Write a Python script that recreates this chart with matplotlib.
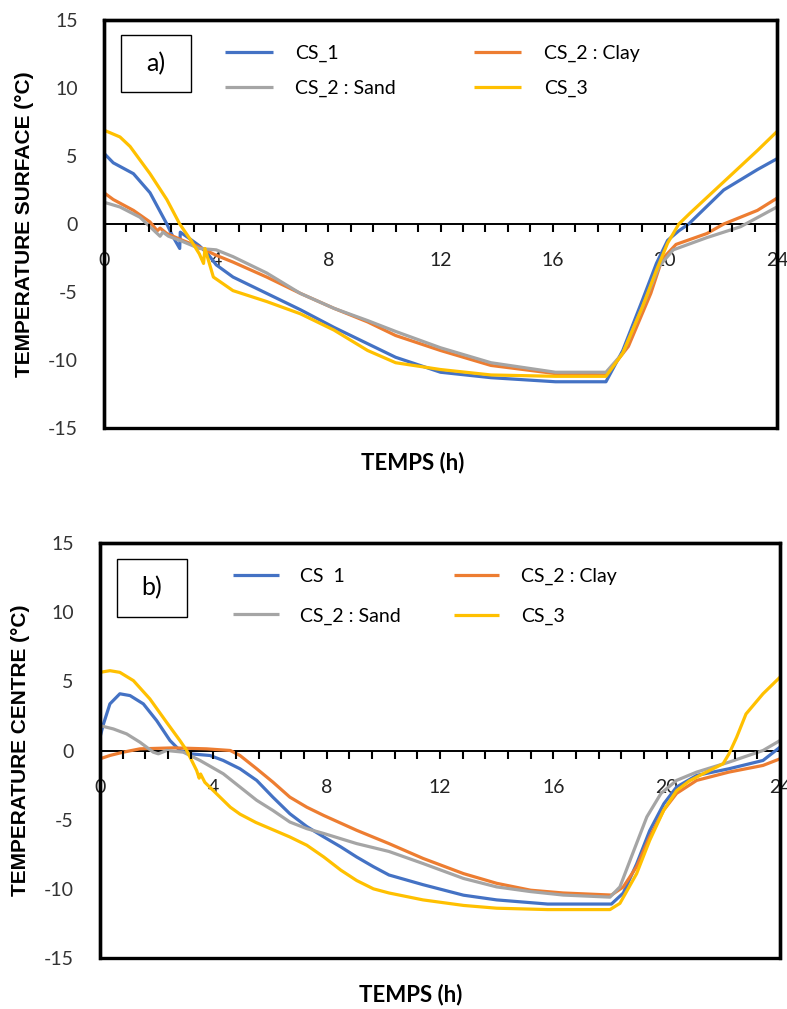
import matplotlib
matplotlib.use("Agg")
import matplotlib.pyplot as plt
from matplotlib.patches import Rectangle

# ---- data (hours, °C) ----
SERIES_NAMES = ["CS_1", "CS_2 : Clay", "CS_2 : Sand", "CS_3"]
COLORS = ["#4472C4", "#ED7D31", "#A5A5A5", "#FFC000"]

# panel a) surface temperature
A_CS1_H = [0, 0.33, 0.6, 1.05, 1.64, 2.24, 2.45, 2.7, 2.72, 3.0, 3.4, 3.7, 4.0, 4.6, 5.8, 7.0, 8.2, 9.4, 10.4,
           12.0, 13.8, 16.1, 17.9, 18.5, 19.2, 19.7, 20.1, 20.5, 20.85, 22.1, 23.3, 24.0]
A_CS1_T = [5.2, 4.5, 4.2, 3.7, 2.3, 0.0, -0.9, -1.8, -0.6, -1.0, -1.6, -2.2, -3.0, -3.9, -5.1, -6.3, -7.6, -8.8,
           -9.8, -10.9, -11.3, -11.6, -11.6, -9.3, -5.6, -2.9, -1.2, -0.5, 0.0, 2.5, 4.0, 4.8]
A_CLAY_H = [0, 0.33, 1.05, 1.64, 1.9, 2.0, 2.24, 2.8, 3.4, 4.0, 4.6, 5.8, 7.0, 8.2, 9.4, 10.4,
            12.0, 13.8, 16.1, 17.9, 18.7, 19.5, 19.9, 20.4, 21.5, 22.1, 23.3, 24.0]
A_CLAY_T = [2.3, 1.8, 1.0, 0.15, -0.5, -0.3, -0.7, -1.2, -1.7, -2.3, -2.8, -3.9, -5.1, -6.2, -7.2, -8.2,
            -9.3, -10.4, -11.0, -11.1, -9.0, -5.1, -2.6, -1.5, -0.7, 0.0, 1.0, 1.9]
A_SAND_H = [0, 0.57, 1.28, 1.64, 2.0, 2.1, 2.3, 2.7, 3.4, 4.0, 4.6, 5.8, 7.0, 8.2, 9.4, 10.4,
            12.0, 13.8, 16.1, 17.9, 18.5, 19.2, 19.8, 20.3, 21.5, 22.7, 24.0]
A_SAND_T = [1.6, 1.25, 0.5, -0.2, -0.9, -0.6, -0.9, -1.2, -1.8, -1.9, -2.4, -3.6, -5.1, -6.2, -7.1, -7.9,
            -9.1, -10.2, -10.9, -10.9, -9.5, -6.1, -3.1, -1.9, -1.0, -0.2, 1.25]
A_CS3_H = [0, 0.57, 0.93, 1.64, 2.24, 2.7, 3.1, 3.4, 3.55, 3.6, 3.9, 4.6, 5.8, 7.0, 8.2, 9.4, 10.4,
           12.0, 13.8, 16.1, 17.9, 18.5, 19.2, 19.7, 20.1, 20.5, 20.9, 22.1, 23.3, 24.0]
A_CS3_T = [6.9, 6.4, 5.7, 3.7, 1.8, 0.0, -1.2, -2.2, -2.9, -1.8, -3.9, -4.9, -5.7, -6.6, -7.8, -9.3, -10.2,
           -10.7, -11.1, -11.2, -11.2, -9.5, -6.1, -3.4, -1.4, 0.0, 0.8, 3.1, 5.4, 6.8]

# panel b) centre temperature
B_CS1_H = [0, 0.12, 0.35, 0.7, 1.06, 1.53, 2.0, 2.47, 2.82, 3.18, 3.88, 4.35, 4.94, 5.53, 6.1, 6.7, 7.3, 7.9,
           8.5, 9.06, 9.65, 10.2, 11.4, 12.83, 14.0, 15.8, 18.05, 18.47, 18.94, 19.4, 19.9, 20.35, 21.06,
           22.2, 23.4, 24.0]
B_CS1_T = [0.96, 1.9, 3.37, 4.1, 3.97, 3.37, 2.16, 0.72, 0.0, -0.24, -0.36, -0.72, -1.32, -2.16, -3.37, -4.57,
           -5.5, -6.25, -6.97, -7.7, -8.4, -9.0, -9.7, -10.46, -10.8, -11.1, -11.1, -10.3, -8.2, -5.8, -3.85,
           -2.64, -1.8, -1.32, -0.72, 0.24]
B_CLAY_H = [0, 0.35, 0.82, 1.41, 2.6, 3.76, 4.6, 4.94, 5.53, 6.1, 6.7, 7.3, 7.9, 9.06, 10.2, 11.4, 12.83,
            14.0, 15.2, 16.35, 18.05, 18.47, 18.94, 19.4, 19.9, 20.35, 21.06, 22.2, 23.4, 24.0]
B_CLAY_T = [-0.6, -0.36, -0.12, 0.12, 0.19, 0.12, 0.0, -0.36, -1.32, -2.28, -3.37, -4.1, -4.7, -5.77, -6.73,
            -7.8, -8.9, -9.6, -10.1, -10.3, -10.45, -9.86, -8.4, -6.25, -4.3, -3.1, -2.16, -1.56, -1.08, -0.6]
B_SAND_H = [0, 0.47, 0.94, 1.41, 1.88, 2.06, 2.35, 2.94, 3.53, 4.35, 4.94, 5.53, 6.1, 6.7, 7.3, 7.9, 9.06,
            10.2, 11.4, 12.83, 14.0, 15.2, 16.35, 18.0, 18.35, 18.8, 19.3, 19.8, 20.35, 21.06, 22.2, 23.4, 24.0]
B_SAND_T = [1.8, 1.56, 1.2, 0.6, -0.12, -0.24, 0.0, -0.12, -0.72, -1.68, -2.64, -3.6, -4.33, -5.17, -5.65,
            -6.0, -6.73, -7.3, -8.17, -9.25, -9.86, -10.2, -10.45, -10.6, -9.86, -7.45, -4.8, -3.1, -2.16,
            -1.56, -0.84, 0.0, 0.72]
B_CS3_H = [0, 0.35, 0.7, 1.18, 1.76, 2.35, 2.82, 3.06, 3.41, 3.5, 3.55, 3.7, 4.1, 4.6, 4.94, 5.5, 6.7, 7.3,
           7.9, 8.5, 9.06, 9.65, 10.2, 11.4, 12.83, 14.0, 15.8, 18.0, 18.35, 18.94, 19.4, 19.9, 20.35, 20.8,
           21.4, 21.99, 22.2, 22.47, 22.8, 23.4, 24.0]
B_CS3_T = [5.65, 5.77, 5.65, 5.05, 3.73, 2.04, 0.72, 0.0, -1.44, -2.0, -1.7, -2.3, -3.1, -4.1, -4.6, -5.2,
           -6.25, -6.85, -7.7, -8.65, -9.4, -10.0, -10.3, -10.8, -11.2, -11.4, -11.5, -11.5, -11.05, -8.9,
           -6.5, -4.3, -2.9, -2.2, -1.56, -0.96, -0.24, 0.96, 2.64, 4.1, 5.3]

X_TICKS = [0, 4, 8, 12, 16, 20, 24]
X_MINOR_STEP = 0.8  # small tick marks every 0.8 h along the zero line
Y_TICKS = [-15, -10, -5, 0, 5, 10, 15]

TICK_FONT = "Lato"
W, H = 787, 1009


def draw_panel(ax, series, tag, ylabel, leg_opts, box_rect, label_x, xlabel_xy):
    lines = []
    for (hx, ty), name, col in zip(series, SERIES_NAMES, COLORS):
        (ln,) = ax.plot(hx, ty, color=col, lw=2.3, label=name, solid_capstyle="butt", zorder=2)
        lines.append(ln)
    if tag == "b)":
        lines[0].set_label("CS  1")

    ax.set_xlim(0, 24)
    ax.set_ylim(-15, 15)
    ax.set_yticks(Y_TICKS)
    ax.set_yticklabels([str(v) for v in Y_TICKS], fontsize=14, family=TICK_FONT, color="#333333")
    ax.tick_params(axis="y", length=0, pad=19)
    # main x axis hidden; the time axis crosses at T = 0 (middle of the axes)
    ax.tick_params(axis="x", which="both", bottom=False, labelbottom=False)
    ax.spines["bottom"].set_visible(False)
    for s in ["top", "left", "right"]:
        ax.spines[s].set_linewidth(2.4)

    sec = ax.secondary_xaxis(0.49999)
    sec.spines["bottom"].set_linewidth(1.4)
    sec.set_xticks(X_TICKS)
    sec.set_xticklabels([str(v) for v in X_TICKS], fontsize=14, family=TICK_FONT, color="#222222")
    sec.tick_params(axis="x", which="both", length=0, pad=20.5)

    # tick marks hanging below the zero line
    n_minor = int(round(24 / X_MINOR_STEP))
    tick_pos = [i * X_MINOR_STEP for i in range(n_minor + 1)]
    for xp in tick_pos:
        ax.plot([xp, xp], [0, -0.6], color="black", lw=1.5, solid_capstyle="butt", zorder=3)

    ax.add_patch(Rectangle((0, 0), 1, 1, transform=ax.transAxes, fill=False,
                           lw=2.4, edgecolor="black", clip_on=False, zorder=5))

    # label box
    bx, by, bw, bh = box_rect
    ax.add_patch(Rectangle((bx, by), bw, bh, transform=ax.transAxes, fill=False,
                           lw=1.0, edgecolor="black"))
    ax.text(bx + bw / 2, by + bh / 2, tag, transform=ax.transAxes, ha="center", va="center",
            fontsize=18, family=TICK_FONT)

    handles = [lines[0], lines[2], lines[1], lines[3]]
    ax.legend(handles=handles, ncol=2, frameon=False, loc="upper left",
              prop={"family": TICK_FONT, "size": 14}, borderpad=0, borderaxespad=0,
              handlelength=leg_opts["hl"], handletextpad=leg_opts["tp"],
              columnspacing=leg_opts["cs"], labelspacing=leg_opts["ls"],
              bbox_to_anchor=leg_opts["anchor"])

    fig = ax.figure
    pos = ax.get_position()
    fig.text(label_x / W, pos.y0 + pos.height / 2, ylabel, rotation=90, ha="center", va="center",
             fontsize=15, fontweight="bold", family="Liberation Sans")
    fig.text(xlabel_xy[0] / W, 1 - xlabel_xy[1] / H, "TEMPS (h)", ha="center", va="center",
             fontsize=16, fontweight="bold", family=TICK_FONT)


fig = plt.figure(figsize=(W / 100, H / 100), dpi=100)
ax_a = fig.add_axes([104 / W, 1 - 428 / H, 673 / W, 408 / H])
ax_b = fig.add_axes([100 / W, 1 - 958 / H, 680 / W, 415 / H])

series_a = [(A_CS1_H, A_CS1_T), (A_CLAY_H, A_CLAY_T), (A_SAND_H, A_SAND_T), (A_CS3_H, A_CS3_T)]
series_b = [(B_CS1_H, B_CS1_T), (B_CLAY_H, B_CLAY_T), (B_SAND_H, B_SAND_T), (B_CS3_H, B_CS3_T)]

draw_panel(ax_a, series_a, "a)", "TEMPERATURE SURFACE (°C)",
           {"hl": 2.45, "tp": 1.15, "cs": 4.0, "ls": 0.92, "anchor": (0.18, 0.94)},
           (0.0253, 0.8235, 0.104, 0.1397), 25, (413, 463))
draw_panel(ax_b, series_b, "b)", "TEMPERATURE CENTRE (°C)",
           {"hl": 2.35, "tp": 1.1, "cs": 2.7, "ls": 1.15, "anchor": (0.196, 0.94)},
           (0.025, 0.8217, 0.103, 0.1398), 21, (411, 995))

fig.savefig("out.png", dpi=100)
